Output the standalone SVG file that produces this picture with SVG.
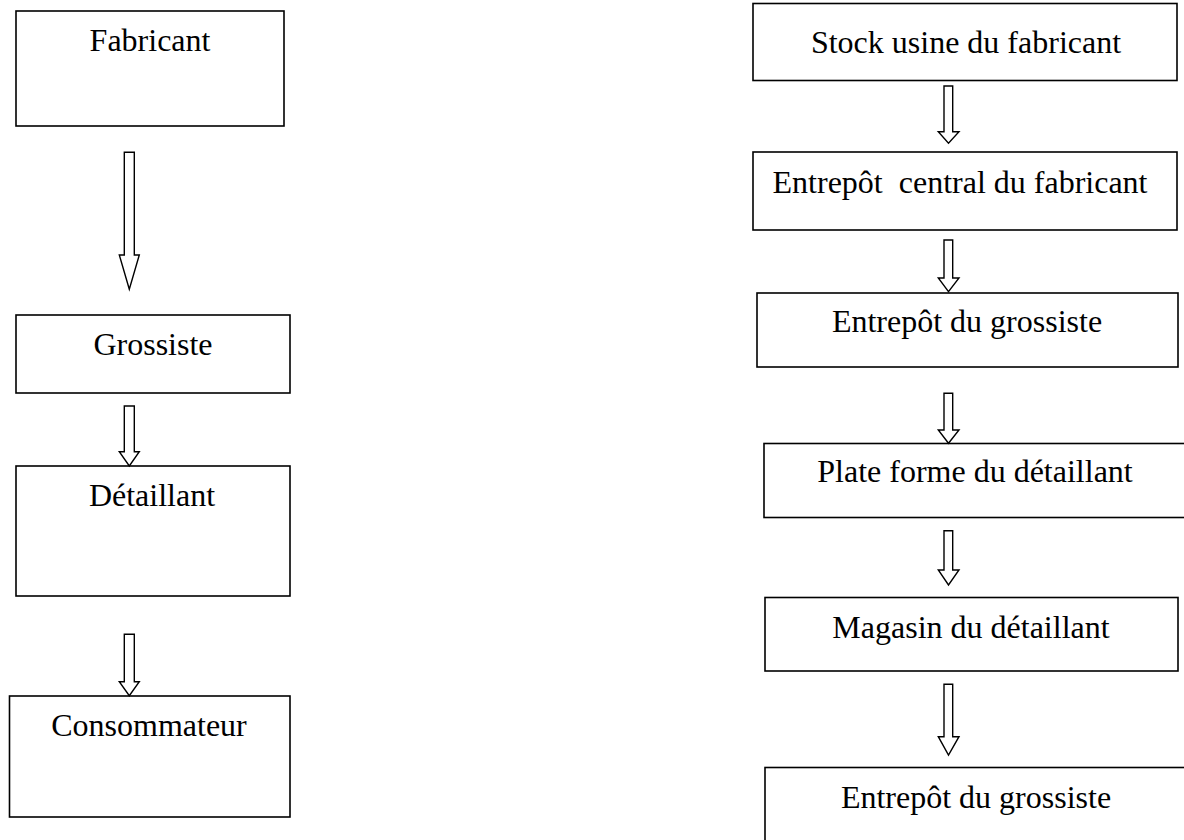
<svg xmlns="http://www.w3.org/2000/svg" width="1184" height="840" viewBox="0 0 1184 840">
  <style>
    .box { fill: #ffffff; stroke: #000000; stroke-width: 1.6; }
    .arrow { fill: #ffffff; stroke: #000000; stroke-width: 1.4; stroke-linejoin: miter; }
    .label { font-family: "Liberation Serif", "Times New Roman", serif; font-size: 32px; fill: #000000; text-anchor: middle; white-space: pre; }
  </style>
  <rect width="1184" height="840" fill="#ffffff"/>

  <!-- left chain -->
  <g id="fabricant">
    <rect class="box" x="16" y="11" width="268" height="115"/>
    <text class="label" x="150" y="51">Fabricant</text>
  </g>
  <g id="grossiste">
    <rect class="box" x="16" y="315" width="274" height="78"/>
    <text class="label" x="153" y="355">Grossiste</text>
  </g>
  <g id="detaillant">
    <rect class="box" x="16" y="466" width="274" height="130"/>
    <text class="label" x="152" y="506">Détaillant</text>
  </g>
  <g id="consommateur">
    <rect class="box" x="9.5" y="696" width="280.5" height="121"/>
    <text class="label" x="149" y="736">Consommateur</text>
  </g>

  <!-- right chain -->
  <g id="stock-usine">
    <rect class="box" x="753" y="3.5" width="424" height="77"/>
    <text class="label" x="966" y="53">Stock usine du fabricant</text>
  </g>
  <g id="entrepot-central">
    <rect class="box" x="753" y="152" width="424" height="78"/>
    <text class="label" x="960" y="193">Entrepôt  central du fabricant</text>
  </g>
  <g id="entrepot-grossiste">
    <rect class="box" x="757" y="293" width="421" height="74"/>
    <text class="label" x="967" y="332">Entrepôt du grossiste</text>
  </g>
  <g id="plate-forme">
    <rect class="box" x="764" y="443.5" width="430" height="74"/>
    <text class="label" x="975" y="482">Plate forme du détaillant</text>
  </g>
  <g id="magasin">
    <rect class="box" x="765" y="597.5" width="413" height="73.5"/>
    <text class="label" x="971" y="638">Magasin du détaillant</text>
  </g>
  <g id="entrepot-grossiste-2">
    <rect class="box" x="765" y="767.5" width="430" height="90"/>
    <text class="label" x="976" y="808">Entrepôt du grossiste</text>
  </g>

  <!-- block arrows -->
  <g id="connectors">
    <path class="arrow" d="M124.3,152.3 H134.3 V255 H139.3 L129.3,289.3 L119.3,255 H124.3 Z"/>
    <path class="arrow" d="M124.3,406 H134.3 V451.7 H139.3 L129.3,466 L119.3,451.7 H124.3 Z"/>
    <path class="arrow" d="M124.3,634.3 H134.3 V681.7 H139.3 L129.3,695.7 L119.3,681.7 H124.3 Z"/>

    <path class="arrow" d="M944,86 H952.7 V131.7 H959 L948.5,143.3 L938.3,131.7 H944 Z"/>
    <path class="arrow" d="M944,240 H952.7 V278 H959 L948.5,291.7 L938.3,278 H944 Z"/>
    <path class="arrow" d="M944,393.3 H952.7 V430 H959 L948.5,443.3 L938.3,430 H944 Z"/>
    <path class="arrow" d="M944,530.7 H952.7 V570 H959 L948.5,585 L938.3,570 H944 Z"/>
    <path class="arrow" d="M944,684.3 H952.7 V736.7 H959 L948.5,755 L938.3,736.7 H944 Z"/>
  </g>
</svg>
